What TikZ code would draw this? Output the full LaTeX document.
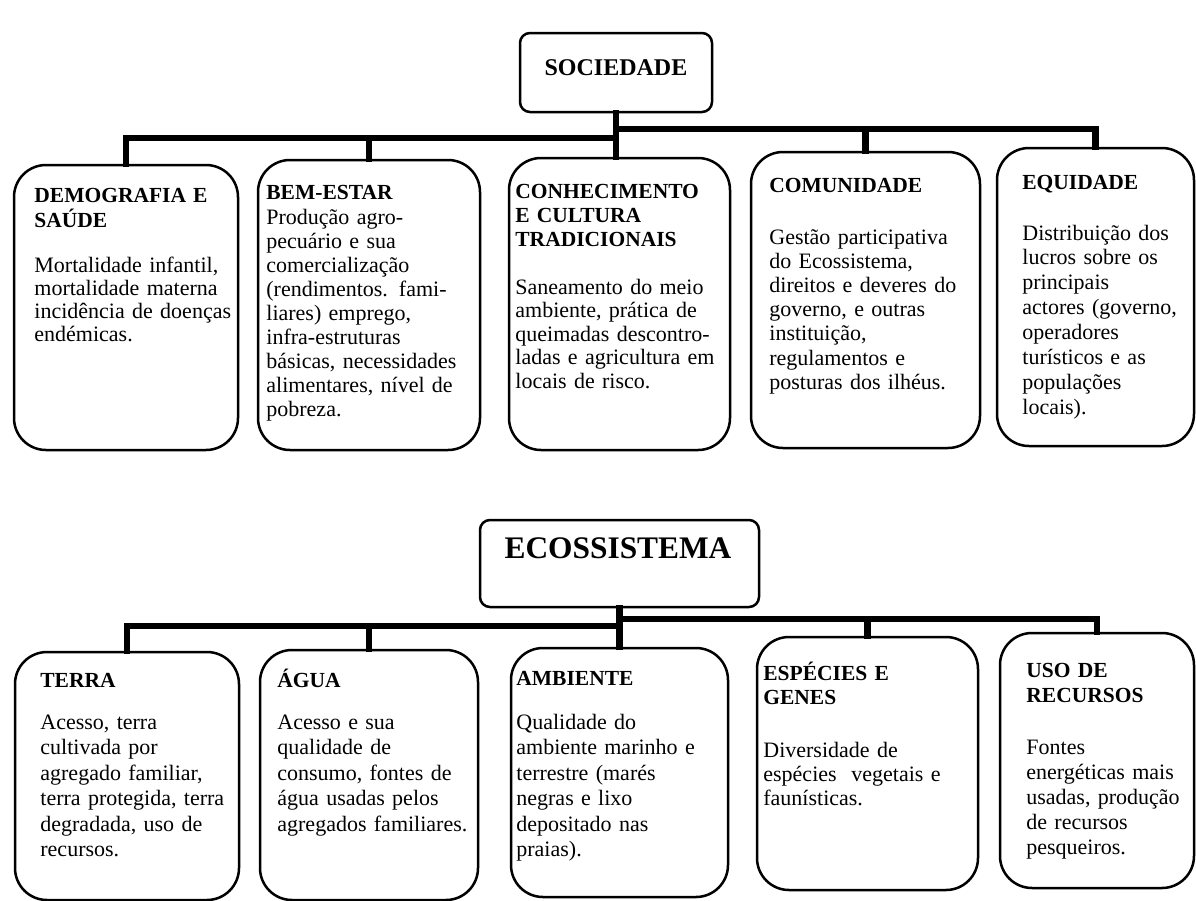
\documentclass[tikz,border=0pt]{standalone}
\usepackage{fontspec}
\setmainfont{Liberation Serif}
\usetikzlibrary{fit}
\tikzset{
  box/.style={draw, line width=1.25pt, rounded corners=16pt, inner sep=0pt},
  topbox/.style={draw, line width=1.25pt, rounded corners=5pt, inner sep=0pt},
  conn/.style={line width=3.25pt, line join=miter, line cap=rect},
  head/.style={font=\bfseries\fontsize{10.75}{#1}\selectfont, anchor=base west, inner sep=0pt, align=left, text width=120pt},
  head/.default=12pt,
  body/.style={font=\fontsize{11}{#1}\selectfont, anchor=base west, inner sep=0pt, align=left, text width=120pt},
  body/.default=12pt,
}
\begin{document}
\begin{tikzpicture}[x=0.5pt, y=-0.5pt]
\useasboundingbox (0,0) rectangle (1196,901);

% ---------- SOCIEDADE ----------
\node[topbox, fit={(520,33) (712,112)}] (soc) {};
\node[font=\bfseries\fontsize{12}{14}\selectfont, anchor=base, inner sep=0pt] (soct) at (616,75) {SOCIEDADE};

\node[box, fit={(14,165) (238,450)}] (t1) {};
\node[box, fit={(258,160) (480,450)}] (t2) {};
\node[box, fit={(509,158) (730,450)}] (t3) {};
\node[box, fit={(751,152) (980,448)}] (t4) {};
\node[box, fit={(997,148) (1194,446)}] (t5) {};

\coordinate (tl) at (0,138);
\coordinate (tr) at (0,129);
\draw[conn] (t1.north) -- (t1.north |- tl) -- (soc.south |- tl);
\draw[conn] (t2.north) -- (t2.north |- tl);
\draw[conn] (soc.south) -- (soc.south |- t3.north);
\draw[conn] (soc.south |- tr) -- (t5.north |- tr) -- (t5.north);
\draw[conn] (t4.north) -- (t4.north |- tr);

\node[head=12.5pt] (t1h) at (34,202) {DEMOGRAFIA E\\SAÚDE};
\node[body=11.65pt] (t1b) at (34,272) {Mortalidade infantil,\\mortalidade materna\\incidência de doenças\\endémicas.};

\node[head] (t2h) at (266,199) {BEM-ESTAR};
\node[body=12pt] (t2b) at (266,224) {Produção agro-\\pecuário e sua\\comercialização\\(rendimentos. fami-\\liares) emprego,\\infra-estruturas\\básicas, necessidades\\alimentares, nível de\\pobreza.};

\node[head=12pt] (t3h) at (515,198) {CONHECIMENTO\\E CULTURA\\TRADICIONAIS};
\node[body=11.75pt] (t3b) at (515,294) {Saneamento do meio\\ambiente, prática de\\queimadas descontro-\\ladas e agricultura em\\locais de risco.};

\node[head] (t4h) at (769,192) {COMUNIDADE};
\node[body=12.1pt] (t4b) at (769,244) {Gestão participativa\\do Ecossistema,\\direitos e deveres do\\governo, e outras\\instituição,\\regulamentos e\\posturas dos ilhéus.};

\node[head] (t5h) at (1022,189) {EQUIDADE};
\node[body=12.45pt] (t5b) at (1022,240) {Distribuição dos\\lucros sobre os\\principais\\actores (governo,\\operadores\\turísticos e as\\populações\\locais).};

% ---------- ECOSSISTEMA ----------
\node[topbox, fit={(480,520) (759,607)}] (eco) {};
\node[font=\bfseries\fontsize{15.7}{18}\selectfont, anchor=base, inner sep=0pt] (ecot) at (618,558) {ECOSSISTEMA};

\node[box, fit={(15,652) (239,900)}] (b1) {};
\node[box, fit={(260,650) (478,900)}] (b2) {};
\node[box, fit={(511,648) (728,897)}] (b3) {};
\node[box, fit={(757,637) (978,890)}] (b4) {};
\node[box, fit={(1000,633) (1194,888)}] (b5) {};

\coordinate (bl) at (0,626);
\coordinate (br) at (0,619);
\draw[conn] (b1.north) -- (b1.north |- bl) -- (eco.south |- bl);
\draw[conn] (b2.north) -- (b2.north |- bl);
\draw[conn] (eco.south) -- (eco.south |- b3.north);
\draw[conn] (eco.south |- br) -- (b5.north |- br) -- (b5.north);
\draw[conn] (b4.north) -- (b4.north |- br);

\node[head] (b1h) at (40,687) {TERRA};
\node[body=12.75pt] (b1b) at (40,729) {Acesso, terra\\cultivada por\\agregado familiar,\\terra protegida, terra\\degradada, uso de\\recursos.};

\node[head] (b2h) at (277,687) {ÁGUA};
\node[body=12.75pt] (b2b) at (277,729) {Acesso e sua\\qualidade de\\consumo, fontes de\\água usadas pelos\\agregados familiares.};

\node[head] (b3h) at (516,685) {AMBIENTE};
\node[body=12.75pt] (b3b) at (516,729) {Qualidade do\\ambiente marinho e\\terrestre (marés\\negras e lixo\\depositado nas\\praias).};

\node[head=12pt] (b4h) at (763,680) {ESPÉCIES E\\GENES};
\node[body=12pt] (b4b) at (763,757) {Diversidade de\\espécies\ \ vegetais e\\faunísticas.};

\node[head=12.5pt] (b5h) at (1026,677) {USO DE\\RECURSOS};
\node[body=12.5pt] (b5b) at (1026,754) {Fontes\\energéticas mais\\usadas, produção\\de recursos\\pesqueiros.};
\end{tikzpicture}
\end{document}
